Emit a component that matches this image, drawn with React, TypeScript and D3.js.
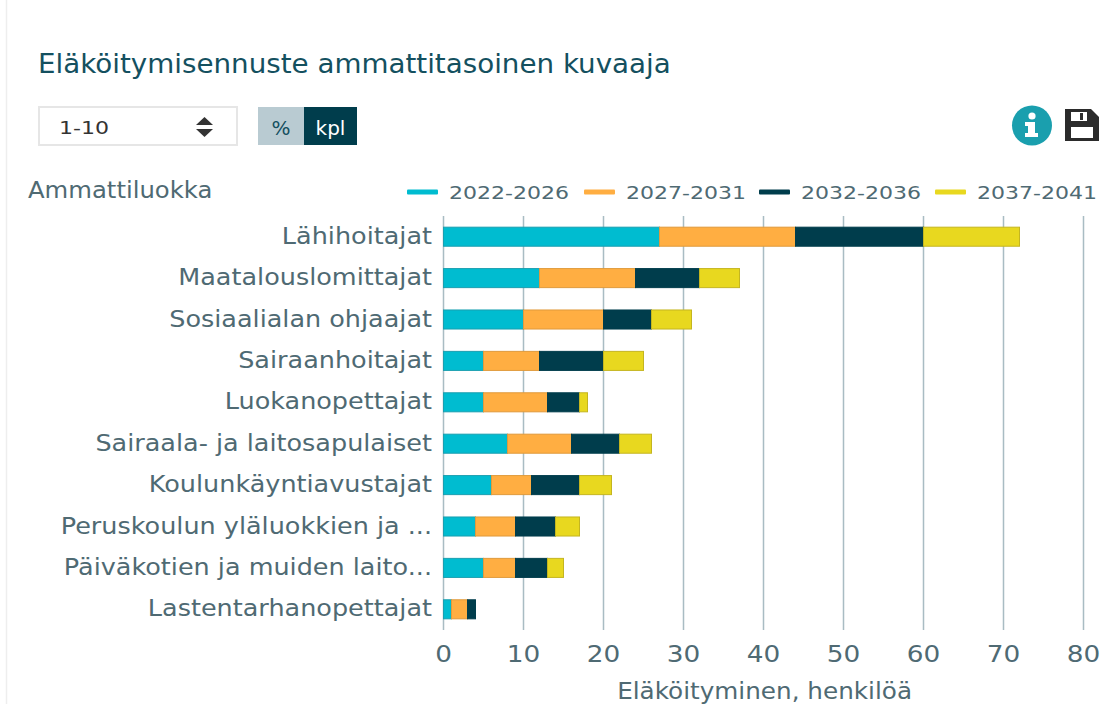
import React from 'react';
import * as d3 from 'd3';

const categories = [
  'Lähihoitajat',
  'Maatalouslomittajat',
  'Sosiaalialan ohjaajat',
  'Sairaanhoitajat',
  'Luokanopettajat',
  'Sairaala- ja laitosapulaiset',
  'Koulunkäyntiavustajat',
  'Peruskoulun yläluokkien ja ...',
  'Päiväkotien ja muiden laito...',
  'Lastentarhanopettajat',
];
const periods = ['2022-2026', '2027-2031', '2032-2036', '2037-2041'];
const values2022 = [27, 12, 10, 5, 5, 8, 6, 4, 5, 1];
const values2027 = [17, 12, 10, 7, 8, 8, 5, 5, 4, 2];
const values2032 = [16, 8, 6, 8, 4, 6, 6, 5, 4, 1];
const values2037 = [12, 5, 5, 5, 1, 4, 4, 3, 2, 0];
const xTicks = [0, 10, 20, 30, 40, 50, 60, 70, 80];
const colors = ['#00bcd0', '#ffae42', '#003d4c', '#e8d81f'];
const strokes = ['#1a9fb0', '#e09a3c', '#003d4c', '#c4b520'];

const font = '"DejaVu Sans", Verdana, sans-serif';
const textColor = '#4f6a73';

const x = d3.scaleLinear().domain([0, 80]).range([443.5, 1083.5]);
const y = d3.scaleBand().domain(categories).range([216, 630]).paddingInner(0.54).paddingOuter(0.27);

const rows = categories.map((c, i) => ({
  category: c,
  [periods[0]]: values2022[i],
  [periods[1]]: values2027[i],
  [periods[2]]: values2032[i],
  [periods[3]]: values2037[i],
}));
const stacked = d3.stack<any>().keys(periods)(rows);

const legendX = [407, 584, 759, 935];

// the original font is wider than DejaVu, so text gets stretched horizontally
const Label = ({ px, py, sx, anchor, size, fill, children }: any) => (
  <text transform={`translate(${px},${py}) scale(${sx},1)`} fontSize={size} fill={fill} textAnchor={anchor}>{children}</text>
);

export default function App() {
  return (
    <svg width={1100} height={704} style={{ position: 'absolute', left: 0, top: 0, background: '#fff' }} fontFamily={font}>
      <line x1={6.5} x2={6.5} y1={0} y2={704} stroke="#eeeeee" strokeWidth={1.5} />
      <Label px={38} py={73} sx={1.067} size={26} fill="#14505f">Eläköitymisennuste ammattitasoinen kuvaaja</Label>

      {/* dropdown */}
      <rect x={39} y={107} width={198} height={38} fill="#fff" stroke="#e6e6e6" strokeWidth={2} />
      <Label px={59} py={134} sx={1.3} size={17} fill="#333">1-10</Label>
      <path d="M196 125 L213 125 L204.5 117 Z M196 129 L213 129 L204.5 137 Z" fill="#333" />

      {/* unit switch */}
      <rect x={258} y={107} width={46} height={38} fill="#b9cbd2" />
      <rect x={304} y={107} width={53} height={38} fill="#003d4c" />
      <text x={281} y={135} fontSize={20} fill="#14505f" textAnchor="middle">%</text>
      <text x={330.5} y={135} fontSize={20} fill="#fff" textAnchor="middle">kpl</text>

      {/* info + save icons */}
      <circle cx={1032} cy={125.5} r={20} fill="#1a9fae" />
      <circle cx={1032} cy={116} r={3.6} fill="#fff" />
      <path d="M1025 122 h10 v11 h3 v4 h-13 v-4 h3 v-7 h-3 Z" fill="#fff" />
      <path d="M1065 109 h26 l8 8 v24 h-34 Z" fill="#2b2b2b" />
      <rect x={1071} y={112} width={16} height={9} fill="#fff" />
      <rect x={1080} y={113} width={3} height={7} fill="#2b2b2b" />
      <rect x={1071} y={127} width={22} height={11} fill="#fff" />

      <Label px={28} py={198} sx={1.057} size={23} fill={textColor}>Ammattiluokka</Label>

      {/* legend */}
      {periods.map((p, i) => (
        <g key={p}>
          <rect x={legendX[i]} y={189.5} width={31} height={5} rx={1} fill={colors[i]} />
          <Label px={legendX[i] + 42} py={199} sx={1.19} size={18.5} fill={textColor}>{p}</Label>
        </g>
      ))}

      {/* grid */}
      {xTicks.map(t => (
        <line key={t} x1={x(t)} x2={x(t)} y1={216} y2={630} stroke="#a9bcc3" strokeWidth={1.5} />
      ))}

      {/* bars */}
      {stacked.map((s, i) => (
        <g key={s.key}>
          {s.map((d, j) =>
            d[1] > d[0] ? (
              <rect
                key={j}
                x={x(d[0])}
                y={y(categories[j])}
                width={x(d[1]) - x(d[0])}
                height={y.bandwidth()}
                fill={colors[i]}
                stroke={strokes[i]}
                strokeWidth={1}
              />
            ) : null
          )}
        </g>
      ))}

      {/* category labels */}
      {categories.map(c => (
        <Label key={c} px={432} py={y(c)! + y.bandwidth() / 2 + 7} sx={1.085} size={23.5} fill={textColor} anchor="end">{c}</Label>
      ))}

      {/* x axis */}
      {xTicks.map(t => (
        <Label key={t} px={x(t)} py={662} sx={1.17} size={22.5} fill={textColor} anchor="middle">{t}</Label>
      ))}
      <Label px={912} py={699} sx={1.073} size={23} fill={textColor} anchor="end">Eläköityminen, henkilöä</Label>
    </svg>
  );
}
